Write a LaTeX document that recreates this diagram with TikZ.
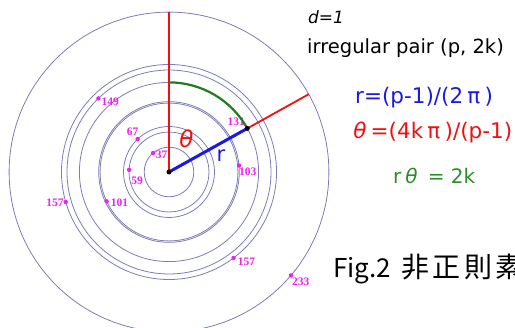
\documentclass[tikz,border=0pt]{standalone}
\usepackage{fontspec}
\setmainfont{DejaVu Sans}
\newfontfamily\cjk{Noto Sans CJK JP}
\newfontfamily\labfont{Liberation Serif}
\usetikzlibrary{calc}
\definecolor{ring}{HTML}{7C7CB8}
\definecolor{mag}{HTML}{F020F0}
\definecolor{fblue}{HTML}{1A1AE6}
\definecolor{fred}{HTML}{F01010}
\definecolor{fgreen}{HTML}{2A8C2A}
\definecolor{arcgreen}{HTML}{1E7D1E}
\newcommand{\fwbox}[1]{\makebox[1em]{#1}}
\begin{document}
\begin{tikzpicture}[x=1pt,y=-1pt,
  ringline/.style={draw=ring, line width=0.8pt},
  pdot/.style={circle, fill=mag, inner sep=0pt, minimum size=4.4pt},
  bdot/.style={circle, fill=black, inner sep=0pt, minimum size=5pt},
  lab/.style={font=\labfont\bfseries\fontsize{11.5}{11.5}\selectfont, text=mag, inner sep=0pt},
  txt/.style={inner sep=0pt, anchor=base west},
  redline/.style={draw=fred, line width=1.8pt},
  blueline/.style={draw=fblue, line width=3pt},
  greenarc/.style={draw=arcgreen, line width=2.2pt}]
\useasboundingbox (0,0) rectangle (515,328);
\clip (0,0) rectangle (515,328);
\coordinate (C) at (169,172);
% rings r = 0.6892 (p-1)
\foreach \r in {24.81,39.97,45.49,68.92,70.30,89.60,102.00,107.52,159.89}
  \draw[ringline] (C) circle[radius=\r];
% prime dots
\path (C) ++(230:24.81) node[pdot] (d37) {};
\path (C) ++(183.1:39.97) node[pdot] (d59) {};
\path (C) ++(226.4:45.49) node[pdot] (d67) {};
\path (C) ++(154.8:68.92) node[pdot] (d101) {};
\path (C) ++(-5.3:70.30) node[pdot] (d103) {};
\path (C) ++(226.2:102.00) node[pdot] (d149) {};
\path (C) ++(53.1:107.52) node[pdot] (d157a) {};
\path (C) ++(163.8:107.52) node[pdot] (d157b) {};
\path (C) ++(40.3:159.89) node[pdot] (d233) {};
\coordinate (P) at ($(C)+(-29.1:89.60)$);
% labels
\node[lab, anchor=west] (l37) at ($(d37)+(2.5,2)$) {37};
\node[lab] (l59) at ($(d59)+(8,11)$) {59};
\node[lab] (l67) at ($(d67)+(-5,-7)$) {67};
\node[lab, anchor=west] (l101) at ($(d101)+(4,1)$) {101};
\node[lab, anchor=west] (l103) at ($(d103)+(0,6)$) {103};
\node[lab] (l131) at ($(P)+(-11,-7)$) {131};
\node[lab, anchor=west] (l149) at ($(d149)+(3,3)$) {149};
\node[lab, anchor=west] (l157a) at ($(d157a)+(4,4)$) {157};
\node[lab, anchor=east] (l157b) at ($(d157b)+(-2,1)$) {157};
\node[lab, anchor=west] (l233) at ($(d233)+(1,6)$) {233};
% axes
\coordinate (T) at ($(C)+(-90:159.89)$);
\coordinate (R) at ($(C)+(-29.1:159.89)$);
\draw[redline] (C) -- (T);
\draw[redline] (C) -- (R);
\draw[blueline] (C) -- (P);
\draw[greenarc] ($(C)+(-90:89.60)$) arc[start angle=-90, end angle=-29.1, radius=89.60];
\node[bdot] (cdot) at (C) {};
\node[bdot] (pdotb) at (P) {};
\node[inner sep=0pt, text=fred, font=\itshape\fontsize{23}{23}\selectfont] (th) at (186.5,138.5) {θ};
\node[inner sep=0pt, text=fblue, font=\fontsize{21}{21}\selectfont] (rr) at (221,156) {r};
% texts
\node[txt, font=\itshape\fontsize{17}{17}\selectfont] (d1) at (308,24) {d=1};
\node[txt, font=\fontsize{19.5}{19.5}\selectfont] (irr) at (307,54) {irregular pair (p, 2k)};
\node[txt, text=fblue, font=\fontsize{21.5}{21.5}\selectfont] (f1) at (355,104) {r=(p-1)/(2\fwbox{π})};
\node[txt, text=fred, font=\fontsize{21.5}{21.5}\selectfont] (f2) at (349,139) {\fwbox{\itshape θ}=(4k\fwbox{π})/(p-1)};
\node[txt, text=fgreen, font=\fontsize{20}{20}\selectfont] (f3) at (393,184) {r\fwbox{\itshape θ} = 2k};
\node[txt, font=\cjk\fontsize{26}{26}\selectfont] (fig) at (333,278) {Fig.2};
\node[txt, font=\cjk\fontsize{28}{28}\selectfont] (figjp) at (401,278) {非\hspace{3.5pt}正\hspace{3.5pt}則\hspace{3.5pt}素};
\end{tikzpicture}
\end{document}
